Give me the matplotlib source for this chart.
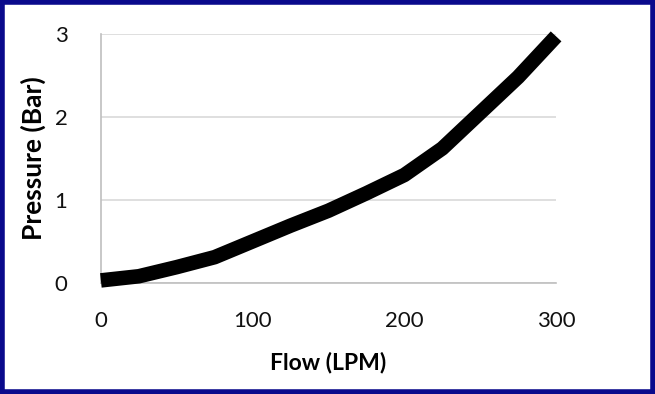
import matplotlib
matplotlib.use("Agg")
import matplotlib.pyplot as plt
from matplotlib.patches import Rectangle

# pressure drop curve
flow = [0, 25, 50, 75, 100, 125, 150, 175, 200, 225, 250, 275, 300]
pressure = [0.03, 0.08, 0.19, 0.31, 0.50, 0.69, 0.87, 1.08, 1.30, 1.62, 2.05, 2.48, 2.97]

x_ticks = [0, 100, 200, 300]
y_ticks = [0, 1, 2, 3]

plt.rcParams['font.family'] = ['Lato', 'DejaVu Sans']

fig = plt.figure(figsize=(6.55, 3.94), dpi=100)
ax = fig.add_axes([0.154, 0.282, 0.695, 0.632])

ax.plot(flow, pressure, color='black', linewidth=10.5,
        solid_capstyle='butt', solid_joinstyle='round', clip_on=False, zorder=3)

ax.set_xlim(0, 300)
ax.set_ylim(0, 3)
ax.set_xticks(x_ticks)
ax.set_yticks(y_ticks)
ax.tick_params(length=0, labelsize=16, colors='#111111')
ax.tick_params(axis='x', pad=20)
ax.tick_params(axis='y', pad=24)

ax.grid(axis='y', color='#d9d9d9', linewidth=1.2)
ax.set_axisbelow(True)
for side in ['top', 'right']:
    ax.spines[side].set_visible(False)
for side in ['left', 'bottom']:
    ax.spines[side].set_color('#bfbfbf')
    ax.spines[side].set_linewidth(1.2)

ax.set_xlabel('Flow (LPM)', fontsize=16.5, fontweight='bold', labelpad=15)
ax.set_ylabel('Pressure (Bar)', fontsize=19, fontweight='bold', labelpad=6)

# navy frame round the whole picture
fig.patches.append(Rectangle((0.003, 0.005), 0.994, 0.99, transform=fig.transFigure,
                             fill=False, edgecolor='#0a0a8c', linewidth=4))

fig.savefig('out.png', dpi=100)
